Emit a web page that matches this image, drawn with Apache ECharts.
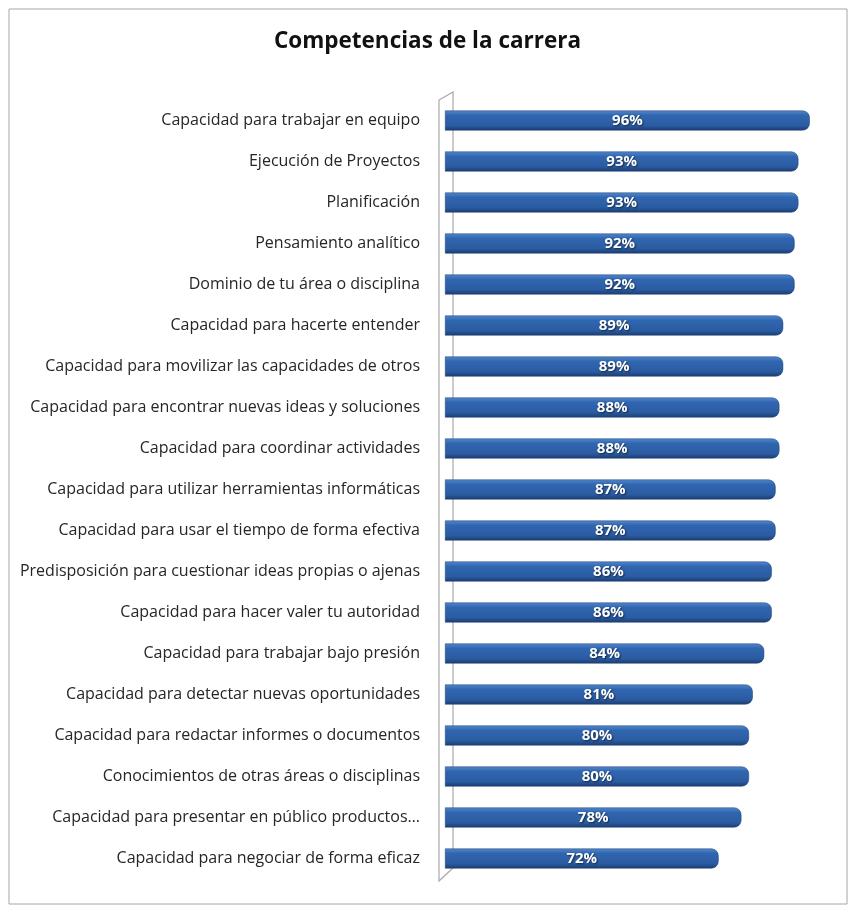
<!DOCTYPE html>
<html>
<head>
<meta charset="utf-8">
<script src="https://cdn.jsdelivr.net/npm/echarts@6/dist/echarts.min.js"></script>
<style>
html,body{margin:0;padding:0;background:#fff;}
#chart{width:855px;height:907px;}
</style>
</head>
<body>
<div id="chart"></div>
<script>
const categories = [
  "Capacidad para trabajar en equipo",
  "Ejecución de Proyectos",
  "Planificación",
  "Pensamiento analítico",
  "Dominio de tu área o disciplina",
  "Capacidad para hacerte entender",
  "Capacidad para movilizar las capacidades de otros",
  "Capacidad para encontrar nuevas ideas y soluciones",
  "Capacidad para coordinar actividades",
  "Capacidad para utilizar herramientas informáticas",
  "Capacidad para usar el tiempo de forma efectiva",
  "Predisposición para cuestionar ideas propias o ajenas",
  "Capacidad para hacer valer tu autoridad",
  "Capacidad para trabajar bajo presión",
  "Capacidad para detectar nuevas oportunidades",
  "Capacidad para redactar informes o documentos",
  "Conocimientos de otras áreas o disciplinas",
  "Capacidad para presentar en público productos…",
  "Capacidad para negociar de forma eficaz"
];
const values = [96, 93, 93, 92, 92, 89, 89, 88, 88, 87, 87, 86, 86, 84, 81, 80, 80, 78, 72];
const titleText = "Competencias de la carrera";

const chart = echarts.init(document.getElementById('chart'), null, {renderer: 'canvas'});
const gridL = 445, gridT = 100, gridB = 28, gridR = 30;

const option = {
  backgroundColor: '#ffffff',
  animation: false,
  title: {
    text: titleText,
    left: 'center',
    top: 25,
    textStyle: {fontFamily: 'Open Sans', fontWeight: 'bold', fontSize: 22.5, color: '#111'}
  },
  grid: {left: gridL, top: gridT, right: gridR, bottom: gridB, containLabel: false},
  xAxis: {
    type: 'value', min: 0, max: 100, show: false
  },
  yAxis: {
    type: 'category', data: categories, inverse: true,
    axisLine: {show: false},
    axisTick: {show: false},
    axisLabel: {
      margin: 25, fontFamily: 'Open Sans', fontSize: 16, color: '#262626'
    }
  },
  series: [{
    type: 'bar',
    data: values,
    barWidth: 20,
    itemStyle: {
      borderRadius: [0, 7, 7, 0],
      color: new echarts.graphic.LinearGradient(0, 0, 0, 1, [
        {offset: 0, color: '#5288cc'},
        {offset: 0.25, color: '#3066b0'},
        {offset: 0.75, color: '#2b5ca2'},
        {offset: 1, color: '#1b3c70'}
      ]),
      borderColor: '#1d3f73',
      borderWidth: 0.5
    },
    label: {
      show: true, position: 'inside',
      formatter: '{c}%',
      fontFamily: 'Open Sans', fontWeight: 'bold', fontSize: 15, color: '#ffffff',
      textShadowColor: 'rgba(0,0,0,0.6)', textShadowBlur: 2, textShadowOffsetX: 1, textShadowOffsetY: 1
    }
  }],
  graphic: [
    {type: 'rect', shape: {x: 9, y: 9, width: 838, height: 895},
     style: {fill: 'none', stroke: '#a6a6a6', lineWidth: 1}, silent: true, z: -1},
    {type: 'polygon', shape: {points: [[439, 100], [453, 92], [453, 868], [439, 881]]},
     style: {fill: '#ffffff', stroke: '#a9a9a9', lineWidth: 1.2}, silent: true, z: -1}
  ]
};
chart.setOption(option);
</script>
</body>
</html>
